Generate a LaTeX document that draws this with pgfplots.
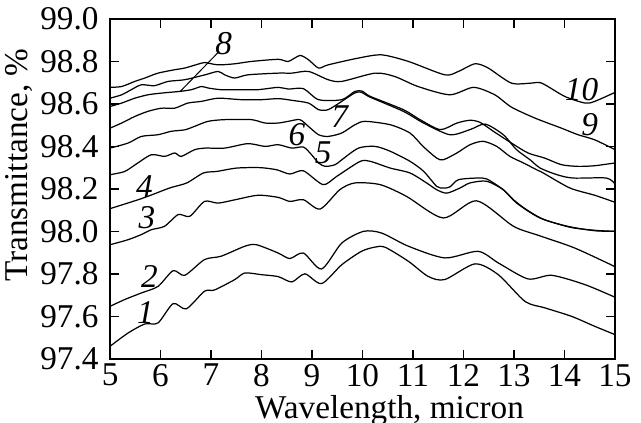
\documentclass[border=0pt]{standalone}
\usepackage{fontspec}
\setmainfont{Liberation Serif}
\usepackage{pgfplots}
\pgfplotsset{compat=1.18}
\pgfplotsset{cv/.style={black, line width=0.5pt, smooth, tension=0.45, mark=none}}
\begin{document}
\fontsize{13.5}{16}\selectfont
\begin{tikzpicture}
\begin{axis}[
  name=ax,
  scale only axis, width=205pt, height=138pt,
  xmin=5, xmax=15, ymin=97.4, ymax=99.0,
  xtick={5,6,7,8,9,10,11,12,13,14,15},
  ytick={97.4,97.6,97.8,98.0,98.2,98.4,98.6,98.8,99.0},
  yticklabel style={/pgf/number format/.cd, fixed, fixed zerofill, precision=1},
  xticklabel style={yshift=2.5pt},
  /pgf/number format/assume math mode=true,
  tick align=inside, major tick length=3.7pt,
  axis line style={line width=0.8pt},
  tick style={line width=0.6pt, black},
  xlabel={Wavelength, micron}, ylabel={Transmittance, \%},
  every axis y label/.style={at={([xshift=-37pt]rel axis cs:0,0.57)}, rotate=90, anchor=center},
  every axis x label/.style={at={([xshift=11pt,yshift=-24.4pt]rel axis cs:0.5,0)}, anchor=base},
]
% curve 1
\addplot[cv] coordinates {(5,97.459)(5.36,97.522)(5.69,97.564)(5.95,97.569)(6.25,97.66)(6.51,97.635)(6.87,97.718)(7.07,97.724)(7.47,97.773)(7.67,97.804)(8.0,97.796)(8.33,97.787)(8.6,97.762)(8.86,97.8)(9.19,97.754)(9.59,97.843)(9.98,97.906)(10.25,97.926)(10.45,97.925)(10.91,97.859)(11.3,97.788)(11.63,97.773)(12.23,97.847)(12.69,97.796)(13.22,97.67)(13.61,97.64)(14.14,97.6)(14.6,97.553)(15,97.514)};
% curve 2
\addplot[cv] coordinates {(5,97.647)(5.29,97.679)(5.62,97.71)(5.95,97.741)(6.25,97.815)(6.48,97.793)(6.87,97.867)(7.2,97.883)(7.67,97.93)(7.9,97.937)(8.33,97.898)(8.56,97.872)(8.83,97.898)(9.19,97.823)(9.59,97.945)(10.02,98.0)(10.38,97.992)(10.91,97.93)(11.63,97.875)(12.29,97.906)(12.7,97.85)(13.28,97.776)(13.75,97.793)(14.41,97.749)(15,97.69)};
% curve 3
\addplot[cv] coordinates {(5,97.937)(5.36,97.961)(5.62,97.985)(5.82,98.008)(6.08,98.024)(6.35,98.079)(6.58,98.071)(6.87,98.141)(7.14,98.133)(7.5,98.15)(7.93,98.17)(8.33,98.16)(8.56,98.141)(8.83,98.149)(9.16,98.105)(9.55,98.196)(9.85,98.228)(10.35,98.22)(10.87,98.165)(11.6,98.063)(12.26,98.144)(12.99,98.024)(13.5,97.98)(14.2,97.922)(15,97.834)};
% curve 4
\addplot[cv] coordinates {(5,98.107)(5.36,98.134)(5.62,98.154)(5.86,98.175)(6.19,98.205)(6.52,98.228)(6.85,98.275)(7.11,98.282)(7.51,98.298)(7.97,98.3)(8.3,98.29)(8.56,98.27)(8.83,98.285)(9.22,98.22)(9.49,98.259)(9.95,98.329)(10.15,98.33)(10.55,98.298)(10.94,98.275)(11.27,98.228)(11.47,98.196)(11.67,98.18)(11.93,98.204)(12.13,98.228)(12.46,98.236)(12.79,98.196)(13.05,98.134)(13.5,98.065)(14.1,98.02)(14.6,98.005)(15,98.0)};
% curve 5
\addplot[cv] coordinates {(5,98.267)(5.29,98.282)(5.55,98.322)(5.82,98.361)(6.08,98.353)(6.28,98.369)(6.41,98.353)(6.67,98.384)(6.88,98.392)(7.27,98.392)(7.73,98.413)(8.07,98.4)(8.33,98.408)(8.6,98.392)(8.83,98.397)(8.99,98.361)(9.13,98.322)(9.26,98.306)(9.46,98.314)(9.59,98.337)(9.92,98.392)(10.25,98.4)(10.55,98.377)(10.94,98.33)(11.21,98.283)(11.47,98.212)(11.6,98.204)(11.73,98.209)(11.9,98.243)(12.26,98.251)(12.46,98.247)(12.79,98.196)(12.99,98.149)(13.25,98.102)(13.6,98.055)(14.1,98.022)(14.6,98.003)(15,98.0)};
% curve 6
\addplot[cv] coordinates {(5,98.392)(5.36,98.416)(5.62,98.447)(5.95,98.455)(6.21,98.471)(6.48,98.478)(6.67,98.494)(6.94,98.518)(7.27,98.526)(7.8,98.526)(8.07,98.51)(8.33,98.51)(8.53,98.518)(8.76,98.526)(8.93,98.494)(9.13,98.455)(9.32,98.447)(9.59,98.463)(9.85,98.502)(10.05,98.518)(10.55,98.502)(10.94,98.463)(11.2,98.4)(11.47,98.345)(11.6,98.337)(11.87,98.369)(12.13,98.408)(12.39,98.424)(12.66,98.4)(12.92,98.353)(13.19,98.322)(13.45,98.29)(13.58,98.275)(14.11,98.204)(14.6,98.17)(15,98.137)};
% curve 7
\addplot[cv] coordinates {(5,98.486)(5.23,98.51)(5.49,98.541)(5.75,98.565)(6.02,98.58)(6.28,98.58)(6.54,98.604)(6.81,98.612)(7.14,98.627)(7.6,98.62)(8.0,98.62)(8.33,98.625)(8.6,98.617)(8.93,98.604)(9.13,98.573)(9.32,98.573)(9.59,98.612)(9.85,98.652)(9.98,98.655)(10.15,98.632)(10.81,98.565)(11.21,98.51)(11.73,98.455)(12.13,98.479)(12.43,98.505)(12.79,98.455)(13.05,98.385)(13.32,98.337)(13.52,98.298)(13.85,98.267)(14.17,98.251)(14.83,98.251)(15,98.223)};
% curve 8
\addplot[cv] coordinates {(5,98.588)(5.23,98.604)(5.49,98.627)(5.75,98.643)(6.02,98.651)(6.38,98.659)(6.61,98.667)(6.81,98.682)(6.94,98.675)(7.2,98.667)(7.6,98.667)(7.93,98.667)(8.33,98.678)(8.53,98.67)(8.83,98.672)(9.13,98.62)(9.59,98.62)(9.85,98.659)(10.0,98.66)(10.15,98.636)(10.81,98.573)(11.14,98.526)(11.54,98.479)(11.87,98.51)(12.13,98.523)(12.33,98.513)(12.6,98.47)(12.95,98.416)(13.28,98.369)(13.61,98.345)(13.94,98.314)(14.27,98.306)(14.6,98.309)(15,98.322)};
% curve 9
\addplot[cv] coordinates {(5,98.627)(5.23,98.643)(5.42,98.667)(5.62,98.69)(5.88,98.686)(6.15,98.706)(6.48,98.714)(6.88,98.737)(7.14,98.753)(7.27,98.737)(7.47,98.722)(7.73,98.737)(8.33,98.745)(8.6,98.745)(8.93,98.753)(9.32,98.714)(9.59,98.706)(10.25,98.745)(10.64,98.729)(11.1,98.682)(11.73,98.643)(12.2,98.678)(12.62,98.643)(12.95,98.585)(13.42,98.533)(13.94,98.486)(14.27,98.455)(14.6,98.431)(15,98.385)};
% curve 10
\addplot[cv] coordinates {(5,98.678)(5.23,98.682)(5.49,98.706)(5.69,98.722)(5.95,98.745)(6.28,98.761)(6.48,98.769)(6.81,98.792)(6.88,98.795)(7.14,98.784)(7.47,98.789)(7.8,98.8)(8.33,98.81)(8.53,98.8)(8.76,98.828)(8.93,98.808)(9.13,98.769)(9.32,98.784)(9.92,98.816)(10.38,98.831)(10.91,98.8)(11.63,98.737)(11.9,98.753)(12.23,98.789)(12.49,98.769)(12.95,98.698)(13.35,98.698)(13.55,98.698)(14.01,98.635)(14.41,98.604)(14.6,98.612)(15,98.654)};
\node[font=\itshape] at (axis cs:5.7,97.616) {1};
\node[font=\itshape] at (axis cs:5.78,97.788) {2};
\node[font=\itshape] at (axis cs:5.73,98.063) {3};
\node[font=\itshape] at (axis cs:5.68,98.212) {4};
\node[font=\itshape] at (axis cs:9.22,98.369) {5};
\node[font=\itshape] at (axis cs:8.7,98.455) {6};
\node[font=\itshape] at (axis cs:9.55,98.541) {7};
\node[font=\itshape] at (axis cs:7.25,98.885) {8};
\node[font=\itshape] at (axis cs:14.5,98.502) {9};
\node[font=\itshape] at (axis cs:14.34,98.667) {10};
\draw[line width=0.4pt] (axis cs:7.16,98.847) -- (axis cs:6.39,98.659);
\end{axis}
\pgfresetboundingbox
\path[use as bounding box] ([xshift=-44.7pt,yshift=-26pt]ax.south west) rectangle ([xshift=10.6pt,yshift=7.7pt]ax.north east);
\end{tikzpicture}
\end{document}
